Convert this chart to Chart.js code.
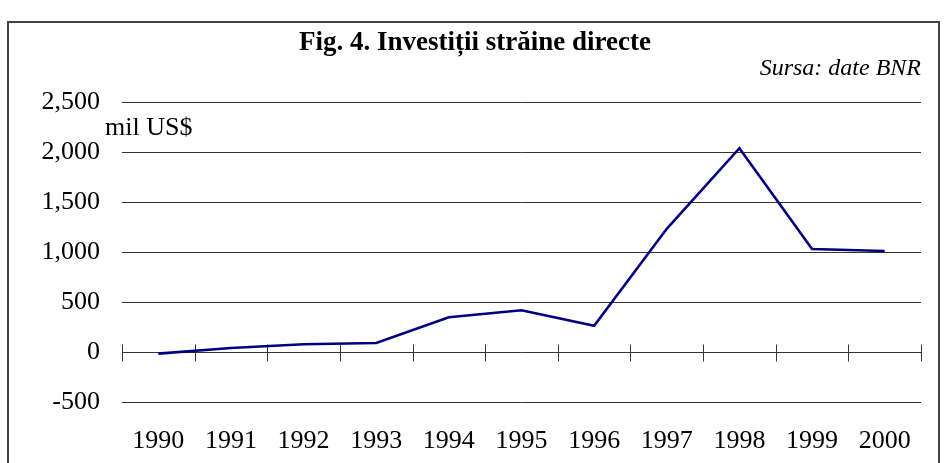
<!DOCTYPE html>
<html lang="ro">
<head>
  <meta charset="utf-8">
  <title>Fig. 4. Investiții străine directe</title>
  <script src="https://cdn.jsdelivr.net/npm/chart.js@4/dist/chart.umd.min.js"></script>
  <style>
    html, body { margin: 0; padding: 0; background: #fff; overflow: hidden; }
    .frame {
      position: absolute;
      left: 7px;
      top: 21px;
      width: 929px;
      height: 460px;
      border: 2px solid #444;
    }
    .frame canvas { display: block; }
  </style>
</head>
<body>
  <div class="frame">
    <canvas id="chart-0" width="929" height="440"></canvas>
  </div>

  <script>

    const years = ['1990', '1991', '1992', '1993', '1994', '1995', '1996', '1997', '1998', '1999', '2000'];
    const fdi = [-16, 40, 77, 90, 347, 417, 263, 1232, 2038, 1030, 1010];
    const yTicks = [-500, 0, 500, 1000, 1500, 2000, 2500];

    const serif = 'Liberation Serif, Times New Roman, serif';

    // zero line with tick marks crossing it, plus the unit label
    let axisExtras = {
      id: 'axisExtras',
      beforeDatasetsDraw(chart) {
        let ctx = chart.ctx;
        let xs = chart.scales.x;
        let ys = chart.scales.y;
        let y0 = Math.round(ys.getPixelForValue(0)) + 0.5;
        let n = years.length;
        let step = (xs.right - xs.left) / n;
        ctx.save();
        ctx.strokeStyle = '#333';
        ctx.lineWidth = 1;
        ctx.beginPath();
        for (let i = 0; i <= n; i++) {
          let x = Math.round(xs.left + i * step) + 0.5;
          ctx.moveTo(x, y0 - 8);
          ctx.lineTo(x, y0 + 9);
        }
        ctx.stroke();
        ctx.restore();
      },
      afterDraw(chart) {
        let ctx = chart.ctx;
        let area = chart.chartArea;
        let ys = chart.scales.y;
        ctx.save();
        ctx.font = '26px ' + serif;
        ctx.fillStyle = '#000';
        ctx.textAlign = 'left';
        ctx.textBaseline = 'middle';
        ctx.fillText('mil US$', area.left - 17, ys.getPixelForValue(2250) + 1);
        ctx.restore();
      }
    };

    let chart = new Chart('chart-0', {
      type: 'line',
      data: {
        labels: years,
        datasets: [{
          label: 'Investiții străine directe',
          data: fdi,
          borderColor: '#000080',
          borderWidth: 2.6,
          pointRadius: 0,
          fill: false,
          tension: 0
        }]
      },
      options: {
        responsive: false,
        animation: false,
        layout: {
          padding: { left: 20, right: 17, top: 0, bottom: 0 }
        },
        plugins: {
          legend: { display: false },
          tooltip: { enabled: false },
          title: {
            display: true,
            text: 'Fig. 4. Investiții străine directe',
            color: '#000',
            font: { family: serif, size: 27, weight: 'bold', lineHeight: 1 },
            padding: { top: 7, bottom: 0 }
          },
          subtitle: {
            display: true,
            text: 'Sursa: date BNR',
            align: 'end',
            color: '#000',
            font: { family: serif, size: 24, style: 'italic', lineHeight: 1 },
            padding: { top: 0, bottom: 21 }
          }
        },
        scales: {
          x: {
            offset: true,
            afterFit(scale) { scale.height = 61; },
            grid: { display: false },
            border: { display: false },
            ticks: {
              color: '#000',
              font: { family: serif, size: 26 },
              padding: 16,
              maxRotation: 0,
              autoSkip: false
            }
          },
          y: {
            min: -500,
            max: 2500,
            afterFit(scale) { scale.width = 93; },
            afterBuildTicks(scale) {
              scale.ticks = yTicks.map(v => ({ value: v }));
            },
            grid: {
              color: '#333',
              lineWidth: 1,
              drawTicks: false
            },
            border: { display: false },
            ticks: {
              color: '#000',
              font: { family: serif, size: 26 },
              padding: 22,
              callback: v => v.toLocaleString('en-US')
            }
          }
        }
      },
      plugins: [axisExtras]
    });

  </script>
</body>
</html>
